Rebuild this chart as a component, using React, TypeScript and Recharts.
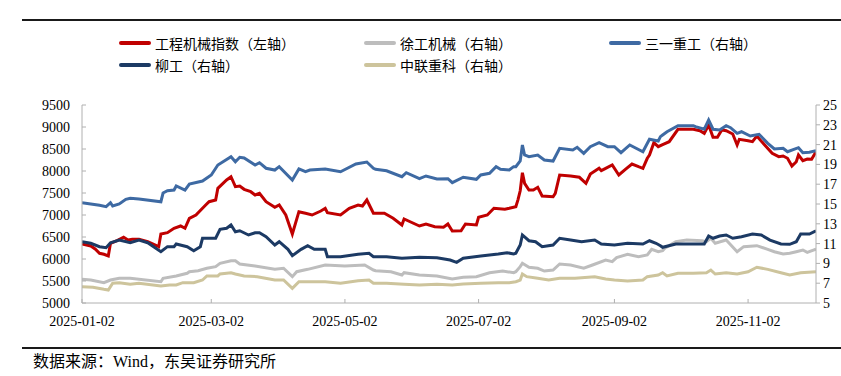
import React from 'react';
import { LineChart, Line, XAxis, YAxis } from 'recharts';

// ---- categories / ticks ----
const startDate = '2025-01-02';
const endDate = '2025-12-03';
const xTickDates = ['2025-01-02', '2025-03-02', '2025-05-02', '2025-07-02', '2025-09-02', '2025-11-02'];
const leftTicks = [5000, 5500, 6000, 6500, 7000, 7500, 8000, 8500, 9000, 9500];
const rightTicks = [5, 7, 9, 11, 13, 15, 17, 19, 21, 23, 25];

// ---- 工程机械指数（左轴）: days since 2025-01-02 / values ----
const indexDays = [0, 4, 6, 8, 10, 12, 13, 16, 19, 21, 23, 26, 30, 35, 36, 39, 42, 45, 47, 49, 52, 56, 58, 61, 62, 66, 68, 70, 72, 74, 77, 79, 81, 84, 88, 90, 93, 96, 99, 102, 105, 109, 111, 112, 118, 122, 126, 128, 130, 133, 138, 142, 146, 147, 154, 157, 161, 165, 167, 169, 173, 175, 180, 181, 185, 188, 193, 195, 198, 199, 200, 201, 202, 204, 206, 208, 210, 215, 216, 218, 223, 227, 230, 232, 236, 237, 239, 242, 245, 248, 251, 254, 256, 258, 259, 261, 263, 265, 268, 272, 279, 282, 284, 286, 288, 290, 292, 294, 297, 299, 300, 304, 306, 308, 312, 315, 318, 320, 322, 324, 326, 327, 329, 331, 333, 335];
const indexValues = [6340, 6295, 6227, 6130, 6107, 6068, 6357, 6416, 6493, 6432, 6448, 6448, 6393, 6280, 6568, 6598, 6698, 6750, 6698, 6925, 7000, 7205, 7302, 7341, 7607, 7795, 7870, 7643, 7659, 7584, 7530, 7455, 7493, 7302, 7175, 7227, 7000, 6568, 7075, 7039, 7000, 7091, 7152, 7052, 7000, 7152, 7227, 7205, 7341, 7039, 7039, 6925, 6773, 6909, 6750, 6795, 6734, 6720, 6795, 6636, 6643, 6795, 6773, 6948, 7000, 7152, 7130, 7152, 7190, 7350, 7550, 7961, 7720, 7568, 7568, 7630, 7432, 7416, 7493, 7909, 7886, 7857, 7720, 7932, 8061, 8007, 8061, 8136, 7909, 8039, 8159, 8098, 8061, 8289, 8364, 8643, 8552, 8600, 8666, 8948, 8948, 8916, 8857, 9045, 8766, 8766, 8932, 8916, 8841, 8591, 8720, 8689, 8666, 8795, 8568, 8402, 8325, 8341, 8289, 8114, 8211, 8364, 8234, 8273, 8266, 8439];

// ---- 徐工机械（右轴） ----
const xcmgDays = [0, 4, 10, 13, 17, 22, 36, 37, 43, 48, 49, 53, 57, 61, 63, 68, 70, 72, 79, 88, 92, 96, 98, 103, 111, 120, 129, 133, 134, 141, 146, 147, 154, 162, 169, 174, 180, 186, 192, 197, 198, 200, 201, 204, 208, 211, 215, 218, 223, 229, 233, 239, 242, 244, 249, 254, 258, 260, 263, 265, 266, 271, 276, 283, 285, 287, 289, 294, 299, 302, 308, 313, 316, 320, 323, 326, 329, 331, 335];
const xcmgValues = [7.39, 7.32, 7.05, 7.32, 7.49, 7.49, 7.15, 7.49, 7.73, 8.0, 8.16, 8.26, 8.51, 8.67, 9.01, 9.27, 9.27, 8.94, 8.74, 8.4, 8.51, 7.66, 8.16, 8.4, 8.84, 8.74, 8.84, 8.33, 8.26, 8.16, 7.83, 8.06, 7.83, 7.73, 7.42, 7.6, 7.66, 8.06, 8.23, 8.06, 8.16, 8.67, 9.01, 8.61, 8.51, 8.23, 8.33, 8.94, 8.84, 8.51, 8.84, 9.34, 9.17, 9.58, 9.92, 9.68, 9.85, 10.42, 10.18, 10.28, 10.53, 11.19, 11.36, 11.29, 11.19, 11.54, 11.03, 11.36, 10.18, 10.69, 10.79, 10.42, 10.18, 9.95, 10.02, 10.18, 10.35, 10.12, 10.45];

// ---- 三一重工（右轴） ----
const sanyDays = [0, 4, 8, 11, 13, 14, 17, 20, 22, 26, 36, 37, 39, 42, 43, 47, 49, 55, 59, 62, 68, 70, 72, 74, 79, 81, 84, 88, 90, 96, 99, 102, 104, 111, 118, 125, 130, 133, 134, 139, 146, 148, 154, 157, 162, 167, 169, 174, 180, 182, 186, 189, 191, 195, 197, 198, 200, 201, 202, 204, 208, 211, 215, 218, 224, 226, 229, 232, 236, 240, 243, 246, 250, 256, 259, 263, 264, 265, 267, 272, 279, 280, 284, 286, 288, 291, 294, 296, 299, 301, 305, 309, 313, 316, 320, 322, 327, 329, 332, 335];
const sanyValues = [15.13, 15.0, 14.87, 14.73, 15.13, 14.8, 15.0, 15.47, 15.58, 15.51, 15.23, 16.11, 16.34, 16.41, 16.82, 16.41, 17.02, 17.32, 17.93, 18.94, 19.78, 19.27, 19.72, 19.65, 18.94, 19.17, 18.61, 18.43, 18.77, 17.42, 18.54, 18.26, 18.43, 18.54, 18.26, 19.04, 19.24, 18.61, 18.51, 18.36, 17.76, 18.16, 17.56, 17.83, 17.53, 17.56, 17.15, 17.7, 17.49, 17.93, 18.1, 18.77, 18.51, 18.43, 18.77, 18.77, 19.35, 20.96, 19.95, 19.78, 19.95, 19.44, 19.34, 20.63, 20.45, 20.73, 20.12, 20.79, 21.19, 20.79, 20.79, 20.18, 20.96, 20.28, 21.54, 21.36, 21.8, 21.97, 22.3, 22.91, 22.91, 22.81, 22.55, 23.48, 22.55, 22.47, 22.91, 22.71, 22.14, 22.3, 21.87, 22.04, 21.13, 20.56, 20.63, 20.28, 20.69, 20.18, 20.22, 20.38];

// ---- 柳工（右轴） ----
const liugongDays = [0, 4, 8, 11, 13, 17, 22, 26, 30, 36, 39, 42, 43, 48, 51, 54, 55, 61, 63, 66, 68, 70, 72, 76, 79, 81, 84, 88, 90, 94, 96, 100, 103, 106, 111, 112, 118, 126, 131, 133, 139, 146, 154, 162, 168, 171, 174, 182, 190, 194, 197, 198, 200, 201, 204, 207, 210, 215, 218, 223, 228, 234, 237, 243, 249, 256, 259, 262, 264, 265, 271, 284, 286, 288, 291, 294, 297, 301, 306, 310, 314, 319, 323, 326, 328, 332, 335];
const liugongValues = [11.19, 11.03, 10.69, 10.59, 11.09, 11.36, 11.09, 11.36, 11.09, 10.18, 10.69, 10.69, 10.96, 10.69, 10.28, 10.69, 11.54, 11.54, 12.44, 12.55, 12.88, 12.2, 12.3, 11.87, 12.1, 12.1, 11.7, 10.86, 11.19, 10.42, 9.78, 10.42, 10.79, 10.42, 10.42, 9.68, 9.68, 9.92, 10.02, 9.68, 9.68, 9.52, 9.62, 9.58, 9.34, 9.11, 9.52, 9.75, 9.95, 10.08, 9.95, 10.02, 10.86, 11.87, 11.29, 11.19, 10.69, 10.86, 11.54, 11.36, 11.19, 11.36, 10.96, 10.86, 11.03, 10.96, 11.29, 11.03, 10.79, 10.63, 10.96, 10.96, 11.77, 11.54, 11.77, 11.87, 11.54, 11.7, 11.97, 11.87, 11.36, 10.96, 10.93, 11.19, 11.97, 11.97, 12.3];

// ---- 中联重科（右轴） ----
const zoomlionDays = [0, 5, 10, 12, 14, 17, 22, 26, 36, 40, 43, 46, 51, 55, 57, 62, 63, 68, 70, 74, 80, 88, 92, 96, 99, 106, 111, 118, 126, 131, 133, 139, 147, 154, 162, 169, 174, 182, 190, 195, 198, 200, 201, 203, 208, 213, 218, 225, 234, 239, 243, 249, 256, 258, 263, 265, 267, 272, 279, 285, 287, 289, 294, 299, 304, 308, 313, 319, 323, 328, 335];
const zoomlionValues = [6.65, 6.59, 6.38, 6.31, 6.99, 7.05, 6.89, 6.99, 6.72, 6.82, 6.82, 7.05, 7.05, 7.32, 7.73, 7.73, 7.93, 8.06, 7.93, 7.73, 7.66, 7.32, 7.32, 6.48, 7.15, 7.15, 7.15, 6.99, 7.25, 7.32, 6.99, 6.99, 6.89, 6.82, 6.89, 6.82, 6.92, 6.99, 7.05, 7.05, 7.15, 7.32, 7.93, 7.66, 7.49, 7.32, 7.49, 7.49, 7.66, 7.42, 7.32, 7.22, 7.32, 7.66, 7.83, 8.06, 7.73, 8.0, 8.0, 8.06, 8.33, 7.93, 8.06, 7.93, 8.16, 8.61, 8.4, 8.06, 7.83, 8.06, 8.16];

const DAY = 86400000;
const base = Date.parse(startDate);
const dayOf = (s: string) => Math.round((Date.parse(s) - base) / DAY);
const fmtDay = (d: number) => new Date(base + d * DAY).toISOString().slice(0, 10);
const zip = (days: number[], vals: number[]) =>
  days.slice(0, Math.min(days.length, vals.length)).map((d, i) => ({ day: d, v: vals[i] }));

const series = [
  { name: '工程机械指数（左轴）', color: '#C00000', axis: 'left', data: zip(indexDays, indexValues) },
  { name: '徐工机械（右轴）', color: '#BDBDBD', axis: 'right', data: zip(xcmgDays, xcmgValues) },
  { name: '三一重工（右轴）', color: '#3E6AA3', axis: 'right', data: zip(sanyDays, sanyValues) },
  { name: '柳工（右轴）', color: '#1C3A64', axis: 'right', data: zip(liugongDays, liugongValues) },
  { name: '中联重科（右轴）', color: '#CDC49C', axis: 'right', data: zip(zoomlionDays, zoomlionValues) },
];

const legendPos = [
  { x: 119, y: 43 },
  { x: 364, y: 43 },
  { x: 609, y: 43 },
  { x: 119, y: 65 },
  { x: 364, y: 65 },
];

const SERIF = "'Liberation Serif', 'Times New Roman', serif";
const CJK = "'Liberation Serif', 'Noto Sans CJK SC', sans-serif";
const AXIS = '#B0B0B0';

export default function App() {
  const tickStyle = { fontFamily: SERIF, fontSize: 14, fill: '#000' };
  return (
    <div style={{ position: 'absolute', left: 0, top: 0, width: 841, height: 376, background: '#fff', overflow: 'hidden' }}>
      <div style={{ position: 'absolute', left: 22, top: 19, width: 819, height: 2, background: '#1a1a1a' }} />
      {series.map((s, i) => (
        <div key={s.name} style={{ position: 'absolute', left: legendPos[i].x, top: legendPos[i].y - 10, height: 20, display: 'flex', alignItems: 'center' }}>
          <div style={{ width: 32, height: 4, background: s.color, borderRadius: 2 }} />
          <span style={{ marginLeft: 4, fontFamily: CJK, fontSize: 14, color: '#000', whiteSpace: 'nowrap' }}>{s.name}</span>
        </div>
      ))}
      <LineChart
        width={841}
        height={376}
        style={{ position: 'absolute', left: 0, top: 0 }}
        margin={{ top: 105, right: 0, bottom: 43, left: 22 }}
      >
        <XAxis
          dataKey="day"
          type="number"
          domain={[0, dayOf(endDate)]}
          ticks={xTickDates.map(dayOf)}
          tickFormatter={fmtDay}
          allowDataOverflow
          height={30}
          tickSize={-4}
          tickMargin={17}
          stroke={AXIS}
          tick={tickStyle}
          interval={0}
        />
        <YAxis
          yAxisId="left"
          orientation="left"
          domain={[5000, 9500]}
          ticks={leftTicks}
          width={60}
          tickSize={-4}
          tickMargin={16}
          stroke={AXIS}
          tick={tickStyle}
          interval={0}
          allowDataOverflow
        />
        <YAxis
          yAxisId="right"
          orientation="right"
          domain={[5, 25]}
          ticks={rightTicks}
          width={25}
          tickSize={4}
          tickMargin={3}
          stroke={AXIS}
          tick={tickStyle}
          interval={0}
          allowDataOverflow
        />
        {series.map((s) => (
          <Line
            key={s.name}
            data={s.data}
            dataKey="v"
            yAxisId={s.axis}
            type="linear"
            stroke={s.color}
            strokeWidth={3}
            dot={false}
            isAnimationActive={false}
          />
        ))}
      </LineChart>
      <div style={{ position: 'absolute', left: 22, top: 347, width: 819, height: 2, background: '#1a1a1a' }} />
      <div style={{ position: 'absolute', left: 33, top: 352, fontFamily: CJK, fontSize: 16, color: '#000', whiteSpace: 'nowrap', lineHeight: '20px' }}>
        数据来源：Wind，东吴证券研究所
      </div>
    </div>
  );
}
